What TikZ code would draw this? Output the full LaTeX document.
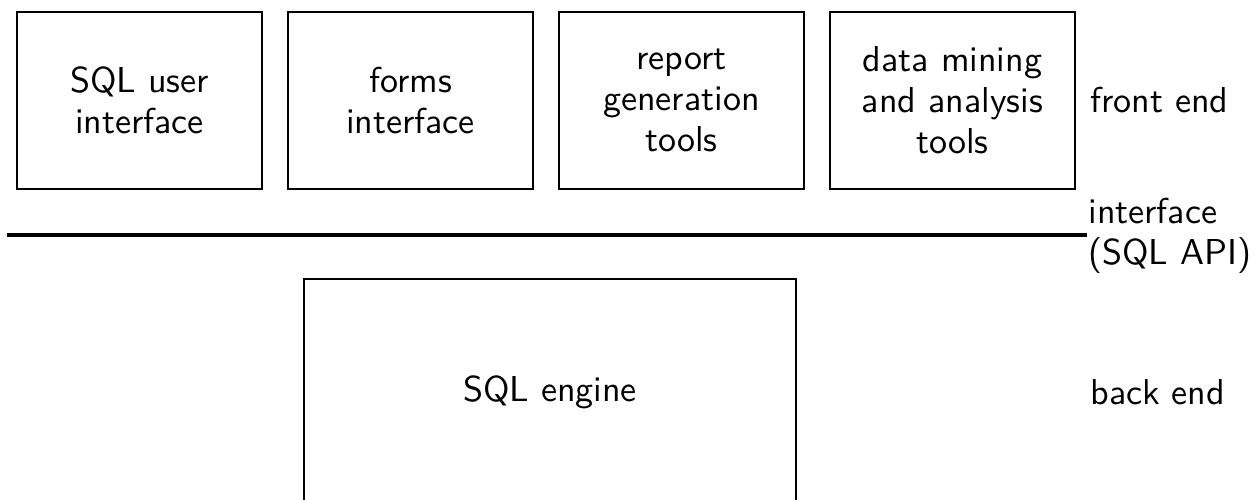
\documentclass[tikz,border=0pt]{standalone}
\usepackage{fontspec}
\setsansfont[Extension=.otf]{lmsans10-regular}
\usetikzlibrary{positioning}
\tikzset{
  layer/.style={draw, line width=1pt, minimum width=122.5pt, minimum height=88.5pt,
    align=center, inner sep=0pt},
  tag/.style={anchor=west, align=left, inner sep=0pt},
}
\begin{document}
\begin{tikzpicture}[x=0.5pt, y=-0.5pt, font=\sffamily\fontsize{18}{20.5}\selectfont]
      \useasboundingbox (0,0) rectangle (1256,499);
      \clip (0,0) rectangle (1256,499);
      % front end tools
      \node[layer] (sqlui) at (139.5,100.5) {SQL user\\interface};
      \node[layer, right=12pt of sqlui] (forms) {forms\\interface};
      \node[layer, right=12pt of forms] (report) {report\\generation\\tools};
      \node[layer, right=12pt of report] (mining) {data mining\\and analysis\\tools};
      % back end
      \node[layer, minimum width=246pt, minimum height=113pt] (engine) at (550,392) {SQL engine};
      % api line
      \coordinate (apil) at (7,235);
      \coordinate (apir) at (1087,235);
      \draw[line width=1.7pt] (apil) -- (apir);
      % labels
      \node[tag] (front) at (1090,100.5) {front end};
      \node[tag] (api) at (1088,236) {interface\\(SQL API)};
      \node[tag] (back) at (1090,392) {back end};
    \end{tikzpicture}
\end{document}
